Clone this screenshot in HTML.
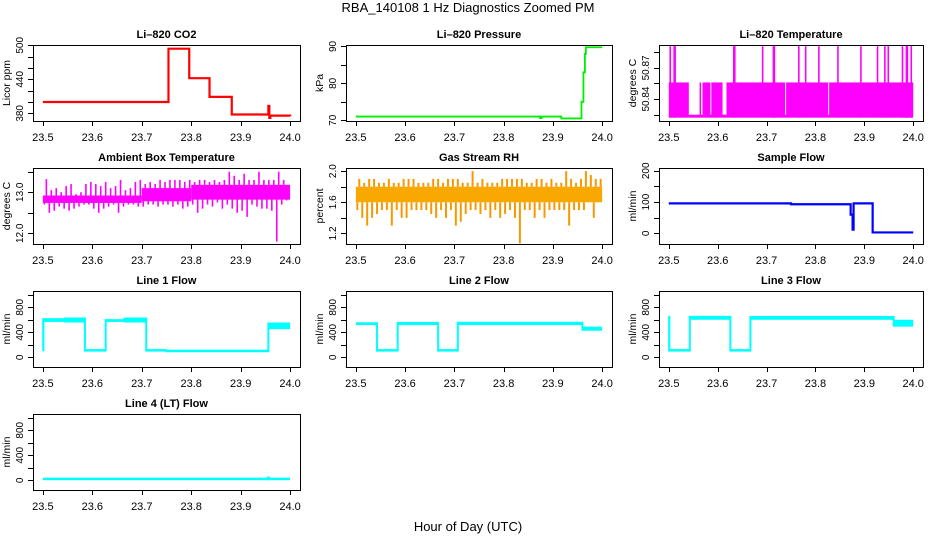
<!DOCTYPE html>
<html><head><meta charset="utf-8"><style>
html,body{margin:0;padding:0;background:#fff;}
svg{display:block;font-family:"Liberation Sans",Arial,sans-serif;}
.tk{font-size:11px;fill:#000;}
.tky{font-size:10px;fill:#000;}
.ttl{font-size:11px;font-weight:bold;fill:#000;}
.yl{font-size:10.5px;fill:#000;}
</style></head><body>
<svg id="chart" width="936" height="540" viewBox="0 0 936 540" xmlns="http://www.w3.org/2000/svg">
<text x="468" y="12" text-anchor="middle" style="font-size:13px">RBA_140108  1 Hz Diagnostics Zoomed PM</text>
<text x="468" y="531" text-anchor="middle" style="font-size:13px">Hour of Day (UTC)</text>
</svg>
<script>
// ---- data ----
const xTicks = [23.5, 23.6, 23.7, 23.8, 23.9, 24.0];
const xTickLabels = ["23.5", "23.6", "23.7", "23.8", "23.9", "24.0"];

const co2T = [23.5, 23.754, 23.796, 23.837, 23.882, 23.956, 23.958, 23.96, 24.0];
const co2V = [400, 494, 442, 409, 378, 393, 372, 376, 375];

const pressT = [23.5, 23.874, 23.877, 23.917, 23.958, 23.962, 23.965, 23.967, 24.0];
const pressV = [71, 70.6, 71, 70.5, 75, 83, 88, 89.8, 89.8];

const tempLow = 50.822, tempMain = 50.856, tempHigh = 50.891;
const tempSpikes = [23.503, 23.511, 23.513, 23.633, 23.635, 23.692, 23.714, 23.716, 23.766, 23.780, 23.807, 23.846, 23.893, 23.927, 23.942, 23.949, 23.978, 23.986, 23.988, 23.996];
const tempGapStart = [23.541, 23.566, 23.585, 23.610, 23.738, 23.826];
const tempGapEnd   = [23.563, 23.569, 23.587, 23.618, 23.740, 23.828];

const ambCoreStart = [23.5, 23.7, 23.8];
const ambCoreEnd   = [23.7, 23.8, 24.0];
const ambCoreLo    = [12.74, 12.78, 12.82];
const ambCoreHi    = [12.92, 13.1, 13.18];
const ambLo = [12.7,12.5,12.55,12.65,12.6,12.55,12.6,12.65,12.7,12.7, 12.6,12.5,12.6,12.65,12.7,12.5,12.65,12.7,12.7,12.65, 12.65,12.7,12.7,12.65,12.7,12.7,12.65,12.7,12.6,12.65, 12.7,12.5,12.6,12.7,12.65,12.75,12.6,12.7,12.6,12.5, 12.55,12.4,12.7,12.65,12.6,12.6,12.55,11.8,12.7,12.8];
const ambHi = [13.32,13.05,13.1,13.0,13.15,13.2,12.95,13.0,13.2,13.25, 13.2,13.15,13.25,13.1,13.15,13.3,13.05,13.1,13.25,13.3, 13.2,13.25,13.2,13.3,13.25,13.3,13.3,13.3,13.25,13.3, 13.25,13.3,13.3,13.25,13.3,13.25,13.3,13.5,13.4,13.3, 13.45,13.3,13.3,13.5,13.3,13.3,13.3,13.5,13.3,13.1];

const rhCoreLo = 1.6, rhCoreHi = 1.8;
const rhLo = [1.5,1.4,1.3,1.4,1.45,1.5,1.5,1.3,1.5,1.4, 1.4,1.5,1.5,1.5,1.5,1.45,1.4,1.5,1.4,1.5, 1.3,1.35,1.45,1.5,1.5,1.45,1.5,1.4,1.5,1.4, 1.45,1.5,1.4,1.07,1.5,1.5,1.4,1.5,1.4,1.5, 1.5,1.5,1.5,1.3,1.5,1.5,1.5,1.6,1.4,1.6];
const rhHi = [1.9,1.85,1.9,1.9,1.85,1.85,1.9,1.85,1.85,1.9, 1.9,1.9,1.85,1.85,1.85,1.9,1.9,1.85,1.9,1.9, 1.9,1.85,1.85,2.0,1.85,1.9,1.85,1.85,1.85,1.9, 1.9,1.9,1.9,1.9,1.85,1.85,1.9,1.9,1.85,1.9, 1.85,1.85,2.0,1.9,1.85,1.9,2.0,1.95,1.9,1.9];

const sampleT = [23.5, 23.75, 23.872, 23.876, 23.878, 23.915, 23.917, 24.0];
const sampleV = [96, 93, 60, 12, 96, 96, 3, 3];

const l1Start = [23.5, 23.5006, 23.545, 23.585, 23.627, 23.665, 23.709, 23.75, 23.956];
const l1End   = [23.5006, 23.545, 23.585, 23.627, 23.665, 23.709, 23.75, 23.956, 24.0];
const l1Lo    = [100, 565, 556, 92, 565, 556, 92, 82, 450];
const l1Hi    = [600, 625, 636, 100, 610, 636, 100, 88, 556];

const l2Start = [23.5, 23.543, 23.585, 23.667, 23.707, 23.96];
const l2End   = [23.543, 23.585, 23.667, 23.707, 23.96, 24.0];
const l2Lo    = [515, 92, 515, 92, 515, 425];
const l2Hi    = [560, 100, 565, 100, 568, 490];

const l3Start = [23.5, 23.5008, 23.543, 23.626, 23.667, 23.96];
const l3End   = [23.5008, 23.543, 23.626, 23.667, 23.96, 24.0];
const l3Lo    = [100, 92, 600, 92, 600, 490];
const l3Hi    = [662, 100, 662, 100, 660, 600];

const l4Start = [23.5, 23.955, 23.957];
const l4End   = [23.955, 23.957, 24.0];
const l4Lo    = [3, 3, 3];
const l4Hi    = [12, 60, 12];

// ---- layout ----
const NS = "http://www.w3.org/2000/svg";
const svg = document.getElementById("chart");
const colX = [33, 346, 659], colW = [267, 266, 264];
const rowY = [45, 168, 291, 414], rowH = 76;
const X0 = 23.48, X1 = 24.02;

function mk(tag, attrs, parent) {
  const e = document.createElementNS(NS, tag);
  for (const k in attrs) e.setAttribute(k, attrs[k]);
  (parent || svg).appendChild(e);
  return e;
}

function panel(name, col, row, title, ylab, yMin, yMax, yTicks, yLabels) {
  const g = mk("g", {});
  
  
  const L = colX[col], W = colW[col], T = rowY[row], B = T + rowH;
  const sx = t => L + (t - X0) / (X1 - X0) * W;
  const sy = v => B - (v - yMin) / (yMax - yMin) * rowH;
  const plot = mk("g", {}, g);
  
  
  const frame = mk("rect", {x: L + .5, y: T + .5, width: W, height: rowH, fill: "none", stroke: "#000", "stroke-width": 1}, g);
  
  
  const tt = mk("text", {x: L + W / 2, y: T - 7, "text-anchor": "middle", class: "ttl"}, g);
  tt.textContent = title;
  
  
  const xa = mk("g", {}, g);
  
  
  mk("line", {x1: sx(xTicks[0]), x2: sx(xTicks[xTicks.length - 1]), y1: B + .5, y2: B + .5, stroke: "#000"}, xa);
  xTicks.forEach((t, i) => {
    mk("line", {x1: Math.round(sx(t)) + .5, x2: Math.round(sx(t)) + .5, y1: B, y2: B + 5, stroke: "#000"}, xa);
    const lb = mk("text", {x: sx(t), y: B + 20, "text-anchor": "middle", class: "tk"}, xa);
    lb.textContent = xTickLabels[i];
    
    
  });
  const ya = mk("g", {}, g);
  
  
  mk("line", {x1: L + .5, x2: L + .5, y1: sy(yTicks[0]), y2: sy(yTicks[yTicks.length - 1]), stroke: "#000"}, ya);
  yTicks.forEach((v, i) => {
    const y = Math.round(sy(v)) + .5;
    mk("line", {x1: L - 5, x2: L, y1: y, y2: y, stroke: "#000"}, ya);
    if (yLabels[i]) {
      const lb = mk("text", {x: 0, y: 0, "text-anchor": "middle", class: "tky", transform: `translate(${L - 10},${sy(v)}) rotate(-90)`}, ya);
      lb.textContent = yLabels[i];
      
      
    }
  });
  const yl = mk("text", {x: 0, y: 0, "text-anchor": "middle", class: "yl", transform: `translate(${L - 23},${T + rowH / 2}) rotate(-90)`}, g);
  yl.textContent = ylab;
  
  
  return {sx, sy, plot};
}

function stepLine(p, T, V, color, w) {
  let d = `M${p.sx(T[0])},${p.sy(V[0])}`;
  for (let i = 1; i < T.length; i++) d += `H${p.sx(T[i])}V${p.sy(V[i])}`;
  const e = mk("path", {d, fill: "none", stroke: color, "stroke-width": w}, p.plot);
  
  
}

function bands(p, S, E, Lo, Hi, color) {
  let prev = null;
  for (let i = 0; i < S.length; i++) {
    const x1 = p.sx(S[i]), x2 = p.sx(E[i]);
    const yt = p.sy(Hi[i]), yb = p.sy(Lo[i]);
    const h = Math.max(2.5, yb - yt);
    const r = mk("rect", {x: x1, y: yb - h, width: Math.max(1.5, x2 - x1), height: h, fill: color}, p.plot);
    
    
    if (prev) {
      const lo = Math.min(prev[0], Lo[i]), hi = Math.max(prev[1], Hi[i]);
      mk("line", {x1: x1, x2: x1, y1: p.sy(lo), y2: p.sy(hi), stroke: color, "stroke-width": 2}, p.plot);
    }
    prev = [Lo[i], Hi[i]];
  }
}

// Li-820 CO2
let p = panel("co2", 0, 0, "Li\u2013820 CO2", "Licor ppm", 366.5, 500.5, [380, 400, 420, 440, 460, 480, 500], ["380", "", "", "440", "", "", "500"]);
stepLine(p, co2T, co2V, "#ff0000", 2.2);

// Pressure
p = panel("pressure", 1, 0, "Li\u2013820 Pressure", "kPa", 69.8, 90.4, [70, 75, 80, 85, 90], ["70", "", "80", "", "90"]);
stepLine(p, pressT, pressV, "#00ee00", 1.8);

// Li-820 temperature
p = panel("li820-temp", 2, 0, "Li\u2013820 Temperature", "degrees C", 50.8188, 50.8921, [50.825, 50.84, 50.855, 50.87, 50.885], ["", "50.84", "", "50.87", ""]);
{
  const r = mk("rect", {x: p.sx(23.5), y: p.sy(tempMain), width: p.sx(24.0) - p.sx(23.5), height: p.sy(tempLow) - p.sy(tempMain), fill: "#ff00ff"}, p.plot);
  
  
  tempGapStart.forEach((s, i) => {
    mk("rect", {x: p.sx(s), y: p.sy(tempMain) - 1, width: p.sx(tempGapEnd[i]) - p.sx(s), height: p.sy(tempLow) - p.sy(tempMain) - 2, fill: "#fff"}, p.plot);
  });
  tempSpikes.forEach(t => {
    const l = mk("line", {x1: p.sx(t), x2: p.sx(t), y1: p.sy(tempLow), y2: p.sy(tempHigh), stroke: "#ff00ff", "stroke-width": 1.6}, p.plot);
    
    
  });
}

// Ambient box temperature
p = panel("ambient-temp", 0, 1, "Ambient Box Temperature", "degrees C", 11.74, 13.59, [12, 12.5, 13, 13.5], ["12.0", "", "13.0", ""]);
ambCoreStart.forEach((s, i) => {
  mk("rect", {x: p.sx(s), y: p.sy(ambCoreHi[i]), width: p.sx(ambCoreEnd[i]) - p.sx(s), height: p.sy(ambCoreLo[i]) - p.sy(ambCoreHi[i]), fill: "#ff00ff"}, p.plot);
});
ambLo.forEach((v, i) => {
  const t = 23.5 + i * 0.01;
  mk("line", {x1: p.sx(t + 0.003), x2: p.sx(t + 0.003), y1: p.sy(v), y2: p.sy(12.9), stroke: "#ff00ff", "stroke-width": 1.6}, p.plot);
  mk("line", {x1: p.sx(t + 0.007), x2: p.sx(t + 0.007), y1: p.sy(12.85), y2: p.sy(ambHi[i]), stroke: "#ff00ff", "stroke-width": 1.6}, p.plot);
});

// Gas stream RH
p = panel("gas-rh", 1, 1, "Gas Stream RH", "percent", 1.064, 2.04, [1.2, 1.4, 1.6, 1.8, 2.0], ["1.2", "", "1.6", "", "2.0"]);
mk("rect", {x: p.sx(23.5), y: p.sy(rhCoreHi), width: p.sx(24.0) - p.sx(23.5), height: p.sy(rhCoreLo) - p.sy(rhCoreHi), fill: "#f8a800"}, p.plot);
rhLo.forEach((v, i) => {
  const t = 23.5 + i * 0.01;
  mk("line", {x1: p.sx(t + 0.003), x2: p.sx(t + 0.003), y1: p.sy(v), y2: p.sy(rhCoreLo), stroke: "#f89800", "stroke-width": 2}, p.plot);
  mk("line", {x1: p.sx(t + 0.007), x2: p.sx(t + 0.007), y1: p.sy(rhCoreHi), y2: p.sy(rhHi[i]), stroke: "#f89800", "stroke-width": 2}, p.plot);
});

// Sample flow
p = panel("sample-flow", 2, 1, "Sample Flow", "ml/min", -34, 209, [0, 50, 100, 150, 200], ["0", "", "100", "", "200"]);
stepLine(p, sampleT, sampleV, "#0000ff", 2.2);

// Line flows
const fTicks = [0, 200, 400, 600, 800, 1000], fLabels = ["0", "", "400", "", "800", ""];
p = panel("line1-flow", 0, 2, "Line 1 Flow", "ml/min", -154, 1059, fTicks, fLabels);
bands(p, l1Start, l1End, l1Lo, l1Hi, "#00ffff");
p = panel("line2-flow", 1, 2, "Line 2 Flow", "ml/min", -154, 1059, fTicks, fLabels);
bands(p, l2Start, l2End, l2Lo, l2Hi, "#00ffff");
p = panel("line3-flow", 2, 2, "Line 3 Flow", "ml/min", -154, 1059, fTicks, fLabels);
bands(p, l3Start, l3End, l3Lo, l3Hi, "#00ffff");
p = panel("line4-flow", 0, 3, "Line 4 (LT) Flow", "ml/min", -154, 1059, fTicks, fLabels);
bands(p, l4Start, l4End, l4Lo, l4Hi, "#00ffff");
</script>
</body></html>
